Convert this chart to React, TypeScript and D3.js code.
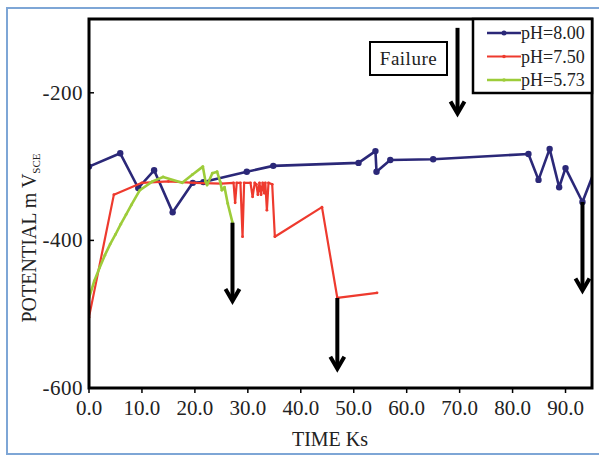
import React from "react";
import * as d3 from "d3";

const xTicks = [0, 10, 20, 30, 40, 50, 60, 70, 80, 90];
const yTicks = [-600, -400, -200];

const ph800: [number, number][] = [
  [0, -300], [5.9, -282], [9.3, -329], [12.3, -305], [15.8, -362], [19.6, -322], [21.6, -321],
  [29.8, -307], [34.8, -299], [50.9, -295], [54.1, -279], [54.3, -307], [56.9, -291], [65.0, -290],
  [83.0, -283], [84.9, -318], [87.0, -276], [88.8, -328], [90.0, -302], [93.2, -348], [95.4, -307],
];

const ph750: [number, number][] = [
  [0, -504], [4.7, -338], [10, -322], [15, -320], [20, -322], [25, -323], [27.3, -322], [27.6, -349],
  [27.9, -322], [28.6, -322], [29.0, -395], [29.3, -322], [30.5, -322], [30.9, -341], [31.3, -322],
  [31.6, -324], [31.9, -338], [32.2, -322], [32.5, -338], [32.8, -322], [33.1, -336], [33.3, -322],
  [33.6, -359], [33.9, -322], [34.6, -324], [35.1, -395], [44.0, -355], [46.9, -478], [54.4, -471],
];

const ph573: [number, number][] = [
  [0, -478], [1, -455], [2, -437], [3, -420], [4, -405], [5, -392], [6, -378], [7, -365], [8, -352],
  [9.6, -332], [12, -320], [14, -314], [17.6, -322], [19.5, -311], [21.5, -300], [22.0, -320],
  [22.3, -325], [23.3, -309], [24.2, -307], [24.8, -321], [25.1, -332], [25.6, -328], [26.2, -350],
  [27.1, -376],
];

const seriesNames = ["pH=8.00", "pH=7.50", "pH=5.73"];
const seriesColors = ["#2b2878", "#ee3a2e", "#9dcc3a"];
const seriesData = [ph800, ph750, ph573];

// arrows: [time, fromPotential, toPotential]
const arrows: [number, number, number][] = [
  [27.1, -376, -482],
  [46.9, -478, -574],
  [93.2, -348, -468],
  [69.6, -112, -228],
];

const W = 599;
const H = 456;
const left = 89, right = 592, top = 19, bottom = 388;

export default function App() {
  const x = d3.scaleLinear().domain([0, 95]).range([left, right]);
  const y = d3.scaleLinear().domain([-600, -100]).range([bottom, top]);
  const line = d3.line<[number, number]>().x((d) => x(d[0])).y((d) => y(d[1]));
  const font = "'Liberation Serif', 'Times New Roman', serif";
  const widths = [2.6, 2.2, 2.6];
  const radii = [3.2, 1.4, 1.4];

  return (
    <svg width={W} height={H} style={{ position: "absolute", left: 0, top: 0, background: "#fff" }} fontFamily={font}>
      <rect x={7} y={8} width={620} height={446} fill="#fff" stroke="#7ea6d6" strokeWidth={2} />
      <defs>
        <clipPath id="plot">
          <rect x={left} y={top} width={right - left} height={bottom - top} />
        </clipPath>
      </defs>
      <g clipPath="url(#plot)">
        {seriesData.map((s, i) => (
          <g key={i}>
            <path d={line(s) || ""} fill="none" stroke={seriesColors[i]} strokeWidth={widths[i]} strokeLinejoin="round" />
            {s.map((d, j) => (
              <circle key={j} cx={x(d[0])} cy={y(d[1])} r={radii[i]} fill={seriesColors[i]} />
            ))}
          </g>
        ))}
      </g>
      {arrows.map((a, i) => {
        const ax = x(a[0]);
        const y1 = y(a[1]);
        const y2 = y(a[2]);
        return (
          <g key={i} stroke="#000" strokeWidth={4} fill="none">
            <line x1={ax} x2={ax} y1={y1} y2={y2 - 1} />
            <path d={`M${ax - 7},${y2 - 12} L${ax},${y2} L${ax + 7},${y2 - 12}`} strokeLinejoin="miter" />
          </g>
        );
      })}
      <rect x={left} y={top} width={right - left} height={bottom - top} fill="none" stroke="#000" strokeWidth={3} />
      {xTicks.map((t) => (
        <g key={t}>
          <line x1={x(t)} x2={x(t)} y1={bottom} y2={bottom + 5} stroke="#000" strokeWidth={1.5} />
          <text x={x(t)} y={bottom + 27} textAnchor="middle" fontSize={21} fill="#222">
            {t.toFixed(1)}
          </text>
        </g>
      ))}
      {yTicks.map((t) => (
        <g key={t}>
          <line x1={left} x2={left + 5} y1={y(t)} y2={y(t)} stroke="#000" strokeWidth={1.5} />
          <text x={left - 6} y={y(t) + 7} textAnchor="end" fontSize={21} letterSpacing={0.5} fill="#222">
            {t}
          </text>
        </g>
      ))}
      <text x={330} y={446} textAnchor="middle" fontSize={20} fill="#222">TIME Ks</text>
      <text transform={`translate(36,238) rotate(-90)`} textAnchor="middle" fontSize={20} fill="#222">
        POTENTIAL m V<tspan fontSize={11} dy={4}>SCE</tspan>
      </text>
      <rect x={370} y={42} width={77} height={33} fill="#fff" stroke="#000" strokeWidth={2} />
      <text x={408.5} y={65} textAnchor="middle" fontSize={19} letterSpacing={0.5} fill="#222">Failure</text>
      <rect x={473} y={19} width={119} height={74} fill="#fff" stroke="#000" strokeWidth={2.5} />
      {seriesNames.map((n, i) => {
        const ly = 33 + i * 23.5;
        return (
          <g key={n}>
            <line x1={487} x2={521} y1={ly} y2={ly} stroke={seriesColors[i]} strokeWidth={widths[i]} />
            <circle cx={504} cy={ly} r={radii[i] === 1.4 ? 1.8 : 2.5} fill={seriesColors[i]} />
            <text x={521} y={ly + 6} fontSize={18} fill="#222">{n}</text>
          </g>
        );
      })}
    </svg>
  );
}
